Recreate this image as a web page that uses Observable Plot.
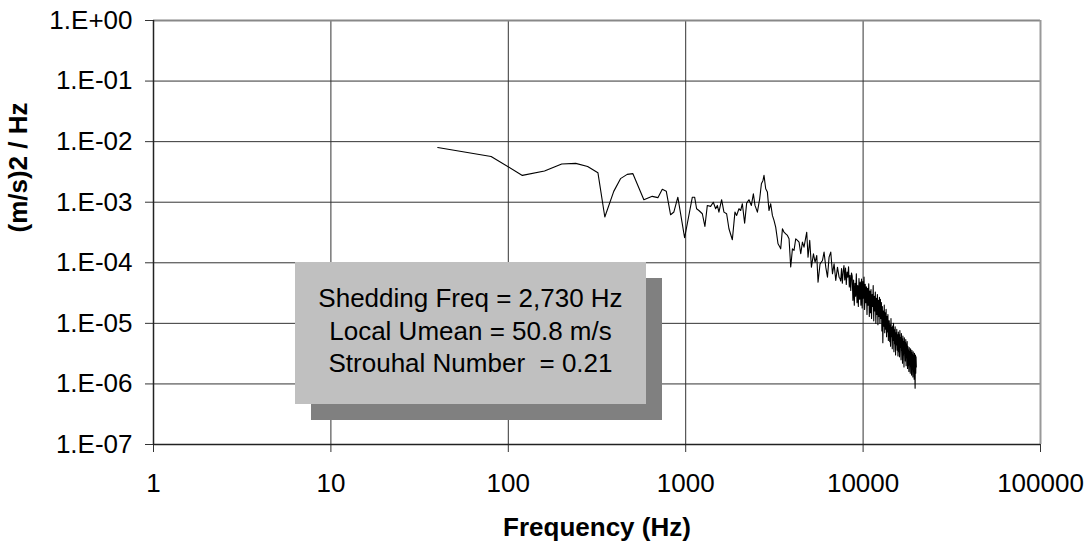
<!DOCTYPE html>
<html>
<head>
<meta charset="utf-8">
<script src="https://cdn.jsdelivr.net/npm/d3@7"></script>
<script src="https://cdn.jsdelivr.net/npm/@observablehq/plot@0.6"></script>
<style>
  html, body { margin: 0; padding: 0; background: #fff; }
  #wrap { position: relative; width: 1088px; height: 544px; overflow: hidden; }
  .note {
    position: absolute; left: 295px; top: 262px; width: 351px; height: 142px;
    box-sizing: border-box; padding-top: 20px;
    background: #c0c0c0; box-shadow: 16px 16px 0 #808080;
    font-family: "Liberation Sans", Arial, sans-serif; font-size: 26px; line-height: 32.5px;
    text-align: center; white-space: pre; color: #000;
  }
</style>
</head>
<body>
<div id="wrap"></div>
<script>
// ---- data ----
const xTicks = [1, 10, 100, 1000, 10000, 100000];
const yTicks = [1, 1e-1, 1e-2, 1e-3, 1e-4, 1e-5, 1e-6, 1e-7];
const xTitle = "Frequency (Hz)";
const yTitle = "(m/s)2 / Hz";
const noteLines = ["Shedding Freq = 2,730 Hz", "Local Umean = 50.8 m/s", "Strouhal Number  = 0.21"];

const freqLow = [40, 80, 120, 160, 200, 240, 280, 320, 350, 393, 429, 468, 504, 581, 648, 697, 738, 777, 822, 858,
  903, 986, 1090, 1123, 1152, 1187, 1241, 1283, 1324, 1382, 1431, 1475, 1508, 1539, 1594, 1643, 1701, 1753, 1832, 1895,
  1938, 1996, 2041, 2086, 2149, 2206, 2273, 2345, 2407, 2458, 2536, 2613, 2671, 2727, 2763, 2825, 2887, 2948, 3014, 3081,
  3146, 3216, 3314, 3401, 3432, 3510, 3583, 3663, 3745, 3824, 3908, 3996, 4080, 4171, 4265, 4355, 4452, 4550, 4645, 4811,
  4893, 5002, 5114, 5250, 5360, 5480, 5572, 5719, 5901, 6025, 6160, 6298, 6429, 6573, 6720, 6861, 7014, 7171, 7321, 7420];
const psdLow = [8.0e-3, 5.7e-3, 2.77e-3, 3.27e-3, 4.27e-3, 4.38e-3, 3.9e-3, 3.07e-3, 5.7e-4, 1.51e-3, 2.45e-3, 2.88e-3, 2.96e-3, 1.10e-3, 1.25e-3, 1.19e-3, 1.63e-3, 1.52e-3, 6.2e-4, 6.9e-4,
  1.21e-3, 2.59e-4, 1.21e-3, 1.21e-3, 7.8e-4, 7.3e-4, 6.45e-4, 3.98e-4, 8.85e-4, 8.53e-4, 1.00e-3, 7.8e-4, 8.85e-4, 6.86e-4, 1.10e-3, 6.86e-4, 6.45e-4, 3.65e-4, 2.40e-4, 6.86e-4,
  6.05e-4, 7.8e-4, 7.3e-4, 9.44e-4, 4.51e-4, 9.66e-4, 1.10e-3, 8.85e-4, 1.38e-3, 8.85e-4, 6.86e-4, 1.14e-3, 2.02e-3, 2.29e-3, 2.77e-3, 1.67e-3, 1.47e-3, 7.3e-4, 9.44e-4, 6.05e-4,
  5.0e-4, 3.87e-4, 2.06e-4, 1.81e-4, 1.70e-4, 3.65e-4, 3.2e-4, 3.01e-4, 2.83e-4, 2.49e-4, 8.5e-5, 1.70e-4, 1.60e-4, 2.49e-4, 2.34e-4, 2.19e-4, 1.41e-4, 2.19e-4, 1.81e-4, 3.2e-4,
  1.24e-4, 2.34e-4, 8.46e-5, 1.41e-4, 1.02e-4, 1.32e-4, 4.78e-5, 9.62e-5, 1.09e-4, 1.50e-4, 8.46e-5, 5.78e-5, 1.24e-4, 1.50e-4, 6.58e-5, 9.62e-5, 5.1e-5, 8.46e-5, 5.78e-5, 5.44e-5];

const freqHigh = [
  7480, 7560, 7640, 7720, 7800, 7880, 7960, 8040, 8120, 8200, 8280, 8360, 8440, 8520, 8600,
  8680, 8760, 8840, 8920, 9000, 9080, 9160, 9240, 9320, 9400, 9480, 9560, 9640,
  9720, 9800, 9880, 9960, 10040, 10120, 10200, 10280, 10360, 10440, 10520, 10600, 10680, 10760, 10840, 10920,
  11000, 11080, 11160, 11240, 11320, 11400, 11480, 11560, 11640, 11720, 11800, 11880, 11960, 12040, 12120, 12200, 12280, 12360,
  12440, 12520, 12600, 12680, 12760, 12840, 12920, 13000, 13080, 13160, 13240, 13320, 13400, 13480, 13560, 13640, 13720, 13800, 13880, 13960,
  14040, 14120, 14200, 14280, 14360, 14440, 14520, 14600, 14680, 14760, 14840, 14920, 15000, 15080, 15160, 15240, 15320, 15400, 15480, 15560, 15640, 15720,
  15800, 15880, 15960, 16040, 16120, 16200, 16280, 16360, 16440, 16520, 16600, 16680, 16760, 16840, 16920, 17000, 17080, 17160, 17240, 17320, 17400, 17480, 17560, 17640, 17720, 17800,
  17880, 17960, 18040, 18120, 18200, 18280, 18360, 18440, 18520, 18600, 18680, 18760, 18840, 18920, 19000, 19080, 19160, 19240, 19320, 19400, 19480, 19560, 19640, 19720, 19800, 19880, 19960];
const psdHigh = [
  5.0e-5, 8.0e-5, 4.6e-5, 7.2e-5, 9.0e-5, 5.2e-5, 8.2e-5, 4.4e-5, 7.0e-5, 5.8e-5, 8.6e-5, 4.0e-5, 6.2e-5, 3.5e-5, 6.8e-5,
  6.0e-5, 2.4e-5, 5.2e-5, 2.0e-5, 4.6e-5, 2.8e-5, 6.6e-5, 2.2e-5, 4.2e-5, 1.9e-5, 5.5e-5, 2.5e-5, 4.8e-5,
  2.0e-5, 5.4e-5, 1.8e-5, 4.9e-5, 2.6e-5, 5.8e-5, 1.7e-5, 4.4e-5, 2.2e-5, 4.0e-5, 1.4e-5, 3.8e-5, 2.0e-5, 4.5e-5, 1.3e-5, 3.4e-5,
  1.5e-5, 3.6e-5, 1.2e-5, 3.0e-5, 1.9e-5, 4.2e-5, 1.1e-5, 2.8e-5, 1.6e-5, 3.3e-5, 1.0e-5, 2.6e-5, 1.4e-5, 3.0e-5, 9.5e-6, 2.4e-5, 1.3e-5, 2.7e-5,
  1.0e-5, 2.5e-5, 1.2e-5, 2.2e-5, 7.5e-6, 1.9e-5, 4.8e-6, 1.6e-5, 9.0e-6, 2.0e-5, 7.0e-6, 1.5e-5, 8.0e-6, 1.7e-5, 6.0e-6, 1.3e-5, 7.2e-6, 1.4e-5, 5.2e-6, 1.1e-5,
  1.1e-5, 5.0e-6, 9.5e-6, 4.2e-6, 1.2e-5, 6.0e-6, 8.5e-6, 3.8e-6, 9.0e-6, 5.2e-6, 1.0e-5, 3.4e-6, 7.8e-6, 4.6e-6, 8.8e-6, 3.0e-6, 7.0e-6, 4.4e-6, 8.0e-6, 3.6e-6, 6.5e-6, 2.9e-6,
  7.2e-6, 3.4e-6, 6.5e-6, 2.8e-6, 7.6e-6, 4.0e-6, 5.8e-6, 2.5e-6, 6.8e-6, 3.6e-6, 5.5e-6, 2.2e-6, 6.2e-6, 3.0e-6, 5.0e-6, 1.9e-6, 5.8e-6, 3.2e-6, 4.8e-6, 2.4e-6, 5.4e-6, 2.0e-6, 4.5e-6, 2.7e-6, 5.0e-6, 1.8e-6,
  4.2e-6, 2.0e-6, 3.6e-6, 1.6e-6, 4.0e-6, 2.4e-6, 3.4e-6, 1.5e-6, 3.8e-6, 2.1e-6, 3.2e-6, 1.4e-6, 3.6e-6, 1.9e-6, 3.0e-6, 1.3e-6, 3.4e-6, 1.8e-6, 2.9e-6, 1.2e-6, 3.2e-6, 1.7e-6, 8.5e-7, 3.0e-6, 1.5e-6, 2.8e-6, 1.9e-6];

// ---- build table ----
const freq = freqLow.concat(freqHigh);
const psd = psdLow.concat(psdHigh);
const data = freq.map((f, i) => ({f, v: psd[i]}));

const font = '"Liberation Sans", Arial, sans-serif';
const fmtY = d => {
  const e = Math.round(Math.log10(d));
  return "1.E" + (e < 0 ? "-" : "+") + String(Math.abs(e)).padStart(2, "0");
};

const chart = Plot.plot({
  width: 1088,
  height: 544,
  marginLeft: 153,
  marginRight: 48,
  marginTop: 20,
  marginBottom: 100,
  style: {fontFamily: font, fontSize: "26px", color: "#000", background: "#fff", overflow: "visible"},
  x: {type: "log", domain: [1, 100000]},
  y: {type: "log", domain: [1e-7, 1]},
  marks: [
    Plot.gridX(xTicks, {stroke: "#333", strokeOpacity: 1, strokeWidth: 1}),
    Plot.gridY(yTicks, {stroke: "#333", strokeOpacity: 1, strokeWidth: 1}),
    Plot.ruleY([yTicks[0]], {stroke: "#888", strokeWidth: 2}),
    Plot.ruleX([xTicks[xTicks.length - 1]], {stroke: "#999", strokeWidth: 2}),
    Plot.axisX(xTicks, {tickSize: 8, tickPadding: 21, tickFormat: d => String(d), label: null, stroke: "#333"}),
    Plot.axisY(yTicks, {tickSize: 8, tickPadding: 13, tickFormat: fmtY, label: null, stroke: "#333"}),
    Plot.ruleX([xTicks[0]], {stroke: "#222", strokeWidth: 1.5}),
    Plot.ruleY([yTicks[yTicks.length - 1]], {stroke: "#222", strokeWidth: 1.5}),
    Plot.line(data, {x: "f", y: "v", stroke: "#000", strokeWidth: 1.1}),
    Plot.text([xTitle], {frameAnchor: "bottom", lineAnchor: "bottom", dy: 91, fontSize: 26, fontWeight: "bold", fill: "#000"}),
    Plot.text([yTitle], {frameAnchor: "left", rotate: -90, dx: -135, fontSize: 26, fontWeight: "bold", fill: "#000"})
  ]
});

const wrap = document.getElementById("wrap");
wrap.appendChild(chart);
const note = document.createElement("div");
note.className = "note";
noteLines.forEach(t => { const d = document.createElement("div"); d.textContent = t; note.appendChild(d); });
wrap.appendChild(note);
</script>
</body>
</html>
